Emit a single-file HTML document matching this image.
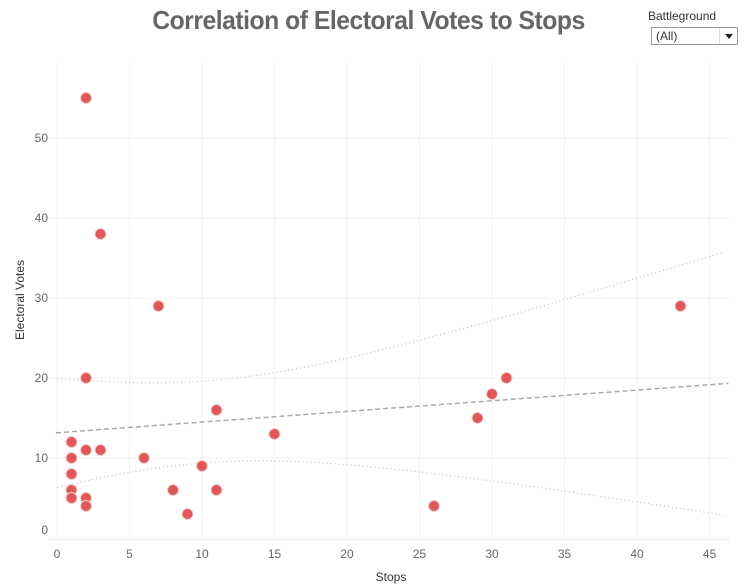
<!DOCTYPE html>
<html><head><meta charset="utf-8"><style>
body{margin:0;width:745px;height:588px;background:#fff;font-family:"Liberation Sans",sans-serif;overflow:hidden;position:relative}
#title{position:absolute;left:0;width:737px;top:5px;text-align:center;font-size:26px;font-weight:bold;color:#666;letter-spacing:-0.5px;transform:scaleX(0.95);transform-origin:368px 0}
#flabel{position:absolute;left:648px;top:9px;font-size:12px;color:#333}
#dd{position:absolute;left:651px;top:27px;width:87px;height:18px;border:1px solid #999;box-sizing:border-box;font-size:12px;color:#333;padding:1px 4px}
#dd .arr{position:absolute;right:0;top:0;width:17px;height:16px;border-left:1px solid #ddd}
#dd .arr:after{content:"";position:absolute;left:5px;top:6px;border:4px solid transparent;border-top:5px solid #222}
</style></head><body>
<div id="title">Correlation of Electoral Votes to Stops</div>
<div id="flabel">Battleground</div>
<div id="dd">(All)<span class="arr"></span></div>
<svg id="chart" width="745" height="588" style="position:absolute;left:0;top:0"></svg>
<script>
const stops=[2,3,7,2,43,31,30,29,15,11,1,1,2,3,6,10,1,8,11,1,1,2,2,9,26];
const votes=[55,38,29,20,29,20,18,15,13,16,12,10,11,11,10,9,8,6,6,6,5,5,4,3,4];
const xTicks=[0,5,10,15,20,25,30,35,40,45];
const yTicks=[0,10,20,30,40,50];
const NS="http://www.w3.org/2000/svg";
const svg=document.getElementById('chart');
const X=v=>57+v*14.5, Y=v=>538-v*8;
const L=48,R=729,T=62;
function el(t,a,p){const e=document.createElementNS(NS,t);for(const k in a)e.setAttribute(k,a[k]);(p||svg).appendChild(e);return e;}
xTicks.forEach(t=>{const g=el('line',{x1:X(t),x2:X(t),y1:T,y2:540,stroke:'#f3f3f3'});

const tx=el('text',{x:X(t),y:558,'text-anchor':'middle','font-size':12,fill:'#666'});tx.textContent=t;
});
yTicks.forEach(t=>{const g=el('line',{x1:L,x2:R,y1:Y(t),y2:Y(t),stroke:'#f3f3f3'});

const tx=el('text',{x:48,y:Math.min(Y(t)+4,534),'text-anchor':'end','font-size':12,fill:'#666'});tx.textContent=t;
});
const xa=el('line',{x1:L,x2:R,y1:540,y2:540,stroke:'#e6e6e6'});

const xt=el('text',{x:391,y:581,'text-anchor':'middle','font-size':12,fill:'#333'});xt.textContent='Stops';

const yt=el('text',{x:24,y:300,'text-anchor':'middle','font-size':12,fill:'#333',transform:'rotate(-90 24 300)'});yt.textContent='Electoral Votes';

const n=stops.length,mx=stops.reduce((a,b)=>a+b)/n,my=votes.reduce((a,b)=>a+b)/n;
let sxx=0,sxy=0;stops.forEach((x,i)=>{sxx+=(x-mx)**2;sxy+=(x-mx)*(votes[i]-my);});
const b=sxy/sxx,a=my-b*mx;let sse=0;stops.forEach((x,i)=>{sse+=(votes[i]-a-b*x)**2;});
const s=Math.sqrt(sse/(n-2)),tq=2.069;
let up='',lo='';for(let x=0;x<=46.3;x+=0.5){const h=tq*s*Math.sqrt(1/n+(x-mx)**2/sxx),m=a+b*x;
up+=(up?'L':'M')+X(x)+','+Y(m+h);lo+=(lo?'L':'M')+X(x)+','+Y(m-h);}
const tl=el('line',{x1:X(0)-1,x2:X(46.3),y1:Y(a),y2:Y(a+b*46.3),stroke:'#aaa','stroke-width':1.5,'stroke-dasharray':'5,3'});

const u=el('path',{d:up,fill:'none',stroke:'#bbb','stroke-dasharray':'1,3'});

const l=el('path',{d:lo,fill:'none',stroke:'#bbb','stroke-dasharray':'1,3'});

stops.forEach((x,i)=>{const c=el('circle',{cx:X(x),cy:Y(votes[i]),r:5.5,fill:'#e05759',stroke:'#f3d0d0','stroke-width':1});
});
</script>
</body></html>
